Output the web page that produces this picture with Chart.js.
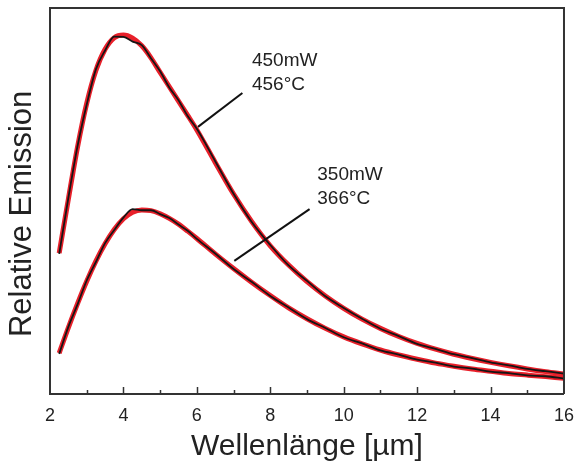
<!DOCTYPE html>
<html>
<head>
<meta charset="utf-8">
<script src="https://cdn.jsdelivr.net/npm/chart.js@4"></script>
<style>
  html, body { margin: 0; padding: 0; background: #fff; }
  #wrap { width: 585px; height: 466px; }
</style>
</head>
<body>
<div id="wrap"><canvas id="myChart" width="585" height="466"></canvas></div>
<script>
// wavelength in µm
const wavelength = [2.25, 2.5, 2.75, 3, 3.25, 3.5, 3.75, 4, 4.25, 4.5, 4.75, 5, 5.25, 5.5, 5.75, 6,
  6.5, 7, 7.5, 8, 8.5, 9, 9.5, 10, 10.5, 11, 11.5, 12, 12.5, 13, 13.5, 14, 14.5, 15, 15.5, 16];

// 450 mW / 456 °C : fit (red) and measurement (black)
const fit450 = [36.5, 50.5, 64, 75.3, 83.8, 89.3, 92.3, 93, 92.2, 90.2, 87.1, 83.3, 79.6, 75.9, 72.2, 68.4,
  60, 51.8, 44.6, 38.4, 33.4, 29.1, 25.4, 22.2, 19.4, 17.0, 14.9, 13.1, 11.6, 10.3, 9.2, 8.2, 7.3, 6.5, 5.8, 5.2];
const data450 = [36.3, 50.8, 64.2, 75.0, 84.1, 89.0, 92.6, 92.5, 91.3, 90.4, 87.0, 83.6, 79.4, 76.1, 72.0, 68.7,
  60.3, 51.9, 44.5, 38.6, 33.3, 29.3, 25.3, 22.3, 19.5, 16.9, 15.0, 13.0, 11.7, 10.3, 9.3, 8.2, 7.4, 6.5, 5.9, 5.3];

// 350 mW / 366 °C
const fit350 = [10.6, 17.2, 23.4, 29.2, 34.4, 38.9, 42.6, 45.4, 47.1, 47.7, 47.5, 46.7, 45.5, 44.0, 42.2, 40.3,
  36.3, 32.5, 28.9, 25.5, 22.3, 19.5, 17.0, 14.8, 13.0, 11.4, 10.1, 9.0, 8.0, 7.2, 6.5, 5.9, 5.3, 4.9, 4.5, 4.1];
const data350 = [10.4, 17.4, 23.2, 29.4, 34.2, 39.1, 42.5, 45.7, 47.9, 47.6, 47.6, 46.6, 45.6, 43.9, 42.3, 40.2,
  36.4, 32.4, 29.0, 25.4, 22.4, 19.4, 17.1, 14.7, 13.1, 11.3, 10.2, 8.9, 8.1, 7.1, 6.6, 5.8, 5.4, 4.8, 4.6, 4.0];

const xTicks = [2, 4, 6, 8, 10, 12, 14, 16];

// labels: [x, y, text]
const labels = [
  [7.5, 85.0, '450mW'], [7.5, 78.8, '456°C'],
  [9.28, 55.4, '350mW'], [9.28, 49.2, '366°C']
];
// leader lines: [x1, y1, x2, y2]
const leaders = [
  [7.24, 78.0, 6.03, 69.2],
  [9.07, 47.9, 7.02, 34.5]
];

function pts(ys) {
  return wavelength.map(function(x, i) { return { x: x, y: ys[i] }; });
}

// frame, inward ticks, labels and leader lines
const decor = {
  id: 'decor',
  afterDraw: function(chart) {
    const ctx = chart.ctx;
    const a = chart.chartArea;
    const xs = chart.scales.x, ys = chart.scales.y;
    ctx.save();
    ctx.strokeStyle = '#333';
    ctx.lineWidth = 2;
    ctx.beginPath();
    ctx.moveTo(a.left, a.top);
    ctx.lineTo(a.right, a.top);
    ctx.lineTo(a.right, a.bottom);
    ctx.stroke();
    // ticks on the bottom axis, pointing inward
    ctx.lineWidth = 1.5;
    for (let v = 3; v <= 15; v++) {
      const px = Math.round(xs.getPixelForValue(v)) + 0.5;
      const len = (v % 2 === 0) ? 7 : 4;
      ctx.beginPath();
      ctx.moveTo(px, a.bottom);
      ctx.lineTo(px, a.bottom - len);
      ctx.stroke();
    }
    ctx.strokeStyle = '#111';
    ctx.lineWidth = 2;
    leaders.forEach(function(l) {
      ctx.beginPath();
      ctx.moveTo(xs.getPixelForValue(l[0]), ys.getPixelForValue(l[1]));
      ctx.lineTo(xs.getPixelForValue(l[2]), ys.getPixelForValue(l[3]));
      ctx.stroke();
    });
    ctx.fillStyle = '#222';
    ctx.font = '19px "Liberation Sans", Arial, sans-serif';
    ctx.textAlign = 'left';
    ctx.textBaseline = 'alphabetic';
    labels.forEach(function(t) {
      ctx.fillText(t[2], xs.getPixelForValue(t[0]), ys.getPixelForValue(t[1]));
    });
    ctx.restore();
  }
};

const config = {
  type: 'line',
  data: {
    datasets: [
      { data: pts(data450), borderColor: '#151515', borderWidth: 1.8, order: 0 },
      { data: pts(data350), borderColor: '#151515', borderWidth: 1.8, order: 0 },
      { data: pts(fit450), borderColor: '#e8202a', borderWidth: 5, order: 1 },
      { data: pts(fit350), borderColor: '#e8202a', borderWidth: 5, order: 1 }
    ]
  },
  options: {
    responsive: false,
    animation: false,
    layout: { padding: { top: 8, right: 13, left: 0, bottom: 0 } },
    elements: {
      point: { radius: 0 },
      line: { cubicInterpolationMode: 'monotone', fill: false }
    },
    plugins: { legend: { display: false }, tooltip: { enabled: false } },
    scales: {
      x: {
        type: 'linear',
        min: 2, max: 16,
        afterBuildTicks: function(scale) {
          scale.ticks = xTicks.map(function(v) { return { value: v }; });
        },
        afterFit: function(scale) { scale.height = 72; },
        grid: { display: false, drawTicks: false },
        border: { display: true, color: '#333', width: 2 },
        ticks: {
          color: '#222', padding: 11,
          font: { family: '"Liberation Sans", Arial, sans-serif', size: 18 }
        },
        title: {
          display: true, text: 'Wellenlänge [µm]', color: '#222',
          padding: { top: 0, bottom: 1 },
          font: { family: '"Liberation Sans", Arial, sans-serif', size: 30 }
        }
      },
      y: {
        min: 0, max: 100,
        afterFit: function(scale) { scale.width = 50; },
        grid: { display: false, drawTicks: false },
        border: { display: true, color: '#333', width: 2 },
        ticks: { display: false },
        title: {
          display: true, text: 'Relative Emission\u00a0\u00a0\u00a0', color: '#222',
          padding: { top: 4, bottom: 0 },
          font: { family: '"Liberation Sans", Arial, sans-serif', size: 31 }
        }
      }
    }
  },
  plugins: [decor]
};

var myChart = new Chart(document.getElementById('myChart'), config);
</script>
</body>
</html>
